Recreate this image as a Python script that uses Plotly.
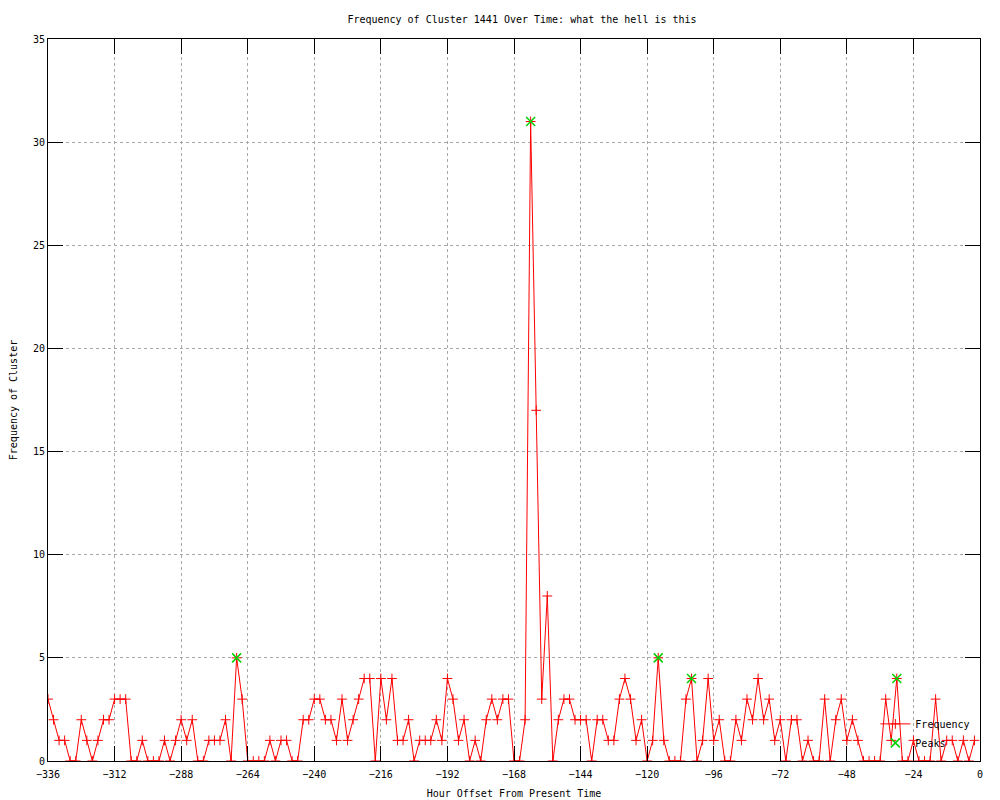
import plotly.graph_objects as go

# Hour offsets (every 2 hours from -336 to -2)
hours = list(range(-336, 0, 2))

frequency = [
    3, 2, 1, 1, 0, 0, 2, 1, 0, 1, 2, 2, 3, 3, 3, 0, 0, 1, 0, 0,
    0, 1, 0, 1, 2, 1, 2, 0, 0, 1, 1, 1, 2, 0, 5, 3, 0, 0, 0, 0,
    1, 0, 1, 1, 0, 0, 2, 2, 3, 3, 2, 2, 1, 3, 1, 2, 3, 4, 4, 0,
    4, 2, 4, 1, 1, 2, 0, 1, 1, 1, 2, 1, 4, 3, 1, 2, 0, 1, 0, 2,
    3, 2, 3, 3, 0, 0, 2, 31, 17, 3, 8, 0, 2, 3, 3, 2, 2, 2, 0, 2,
    2, 1, 1, 3, 4, 3, 1, 2, 0, 1, 5, 1, 0, 0, 0, 3, 4, 0, 1, 4,
    1, 2, 0, 0, 2, 1, 3, 2, 4, 2, 3, 1, 2, 0, 2, 2, 0, 1, 0, 0,
    3, 0, 2, 3, 1, 2, 1, 0, 0, 0, 0, 3, 1, 4, 0, 0, 1, 0, 0, 0,
    3, 0, 1, 1, 0, 1, 0, 1,
]

peak_hours = [-268, -162, -116, -104, -30]
peak_values = [5, 31, 5, 4, 4]

x_ticks = [-336, -312, -288, -264, -240, -216, -192, -168, -144, -120, -96, -72, -48, -24, 0]
y_ticks = [0, 5, 10, 15, 20, 25, 30, 35]

FONT = "DejaVu Sans Mono"

fig = go.Figure()
fig.add_trace(go.Scatter(
    x=hours, y=frequency, name="Frequency", mode="lines+markers",
    line=dict(color="#ff0000", width=1),
    marker=dict(symbol="cross-thin", size=7, line=dict(color="#ff0000", width=1)),
))
fig.add_trace(go.Scatter(
    x=peak_hours, y=peak_values, name="Peaks", mode="markers",
    marker=dict(symbol="x-thin", size=9, color="#00d000",
                line=dict(color="#00d000", width=1.5)),
))

axis_common = dict(
    showline=True, linecolor="black", linewidth=1, mirror="allticks",
    ticks="inside", ticklen=15, tickcolor="black", tickwidth=1,
    showgrid=True, gridcolor="#a8a8a8", gridwidth=1, griddash="3px,3px",
    zeroline=False, automargin=False,
    tickfont=dict(family=FONT, size=10, color="black"),
)

fig.update_layout(
    width=1000, height=800,
    margin=dict(l=40, r=28, t=31, b=47),
    paper_bgcolor="white", plot_bgcolor="white",
    font=dict(family=FONT, size=10, color="black"),
    title=dict(text="Frequency of Cluster 1441 Over Time: what the hell is this",
               x=0.514, xanchor="center", y=0.986, yanchor="middle",
               font=dict(family=FONT, size=10, color="black")),
    xaxis=dict(range=[-336, 0], tickvals=x_ticks, ticklabelstandoff=4,
               title=dict(text="Hour Offset From Present Time", standoff=10,
                          font=dict(family=FONT, size=10)),
               **axis_common),
    yaxis=dict(range=[0, 35], tickvals=y_ticks,
               title=dict(text="Frequency of Cluster", standoff=14,
                          font=dict(family=FONT, size=10)),
               **axis_common),
    legend=dict(x=0.995, xanchor="right", y=0.005, yanchor="bottom",
                bgcolor="rgba(0,0,0,0)", font=dict(family=FONT, size=10),
                tracegroupgap=0, itemwidth=30),
    showlegend=True,
)

fig.write_html("out.html")
